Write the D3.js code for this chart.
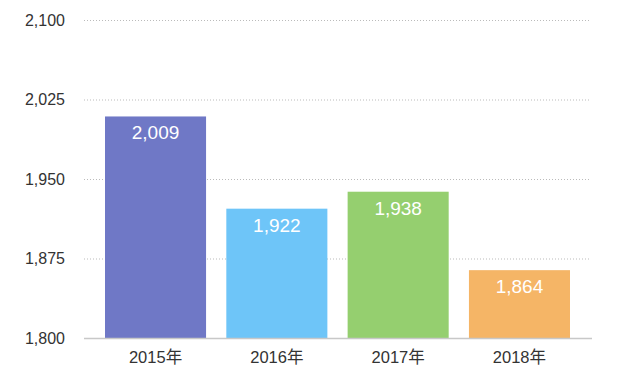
<!DOCTYPE html>
<html>
<head>
<meta charset="utf-8">
<script src="https://cdn.jsdelivr.net/npm/d3@7"></script>
<style>
  body { margin: 0; background: #fff; }
  text { font-family: "Helvetica Neue", "Liberation Sans", "Noto Sans CJK SC", sans-serif; }
</style>
</head>
<body>
<div id="chart"></div>
<script>
var years = ['2015年', '2016年', '2017年', '2018年'];
var values = [2009, 1922, 1938, 1864];
var colors = ['#6f78c6', '#6ec5f8', '#95cf6f', '#f5b566'];
var yTicks = [1800, 1875, 1950, 2025, 2100];

(() => {
  var width = 630,
      height = 377;

  var svg = d3.select('#chart')
    .append('svg')
    .attr('width', width)
    .attr('height', height);

  var x = d3.scaleBand()
    .domain(years)
    .range([95, 580])
    .paddingInner(0.167)
    .paddingOuter(0.0825);

  var y = d3.scaleLinear()
    .domain([1800, 2100])
    .range([338, 20]);

  // dotted grid lines
  svg.append('g')
    .selectAll('line')
    .data(yTicks.slice(1))
    .enter()
      .append('line')
      .attr('x1', 84)
      .attr('x2', 590)
      .attr('y1', d => y(d) + 0.5)
      .attr('y2', d => y(d) + 0.5)
      .attr('stroke', '#bbb')
      .attr('stroke-dasharray', '1,2');

  // y axis labels
  svg.append('g')
    .selectAll('text')
    .data(yTicks)
    .enter()
      .append('text')
      .attr('x', 65)
      .attr('y', d => y(d))
      .attr('dy', '0.35em')
      .attr('text-anchor', 'end')
      .attr('font-size', 16)
      .attr('fill', '#333')
      .text(d => d3.format(',')(d));

  // bars
  svg.append('g')
    .selectAll('rect')
    .data(values)
    .enter()
      .append('rect')
      .attr('x', (d, i) => x(years[i]))
      .attr('width', x.bandwidth())
      .attr('y', d => y(d))
      .attr('height', d => y(1800) - y(d))
      .attr('fill', (d, i) => colors[i]);

  // baseline
  svg.append('line')
    .attr('x1', 84)
    .attr('x2', 592)
    .attr('y1', y(1800) + 0.5)
    .attr('y2', y(1800) + 0.5)
    .attr('stroke', '#c8c8c8')
    .attr('stroke-width', 1.5);

  // value labels
  svg.append('g')
    .selectAll('text')
    .data(values)
    .enter()
      .append('text')
      .attr('x', (d, i) => x(years[i]) + x.bandwidth() / 2)
      .attr('y', d => y(d) + 23)
      .attr('text-anchor', 'middle')
      .attr('font-size', 19)
      .attr('fill', '#fff')
      .text(d => d3.format(',')(d));

  // x labels
  svg.append('g')
    .selectAll('text')
    .data(years)
    .enter()
      .append('text')
      .attr('x', d => x(d) + x.bandwidth() / 2)
      .attr('y', 363)
      .attr('text-anchor', 'middle')
      .attr('font-size', 16.5)
      .attr('fill', '#333')
      .text(d => d);
})();
</script>
</body>
</html>
